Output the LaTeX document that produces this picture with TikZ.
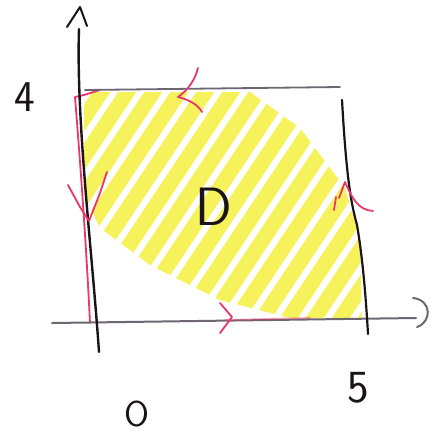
\documentclass[tikz,border=0pt]{standalone}
\usetikzlibrary{calc}
\definecolor{hlyellow}{HTML}{F6F25C}
\definecolor{penpink}{HTML}{E8386A}
\definecolor{pengray}{HTML}{6E6670}
\definecolor{penblack}{HTML}{1A1418}
\tikzset{
  axisline/.style={line width=2.4pt, line cap=round, line join=round},
  pinkstroke/.style={penpink, line width=1.8pt, line cap=round, line join=round},
  hatch/.style={hlyellow, line width=15pt, line cap=round},
  lbl/.style={inner sep=0pt, font=\sffamily\fontsize{#1}{#1}\selectfont, text=penblack},
}
\begin{document}
\begin{tikzpicture}[x=1pt,y=-1pt]
\useasboundingbox (0,0) rectangle (438,434);
% yellow hatched region D
\begin{scope}
  \clip (84,92) -- (250,92) -- (300,128) -- (345,188) -- (360,240) -- (362,318)
        -- (290,318) -- (220,300) -- (150,265) -- (100,228) -- (84,195) -- cycle;
  \foreach \x in {-90,-64,...,380} {
    \draw[hatch] (\x,340) -- ++(220,-330);
  }
\end{scope}
% named corners
\coordinate (tl) at (85,90);
\coordinate (tr) at (340,87);
\coordinate (rt) at (342,100);
\coordinate (rb) at (368,334);
\coordinate (xs) at (52,323);
\coordinate (xe) at (416,318);
\coordinate (ys) at (99,352);
\coordinate (ye) at (79,29);
% left pink boundary
\draw[pinkstroke] (100,90) -- (84,95) -- (75,97) .. controls (80,160) and (86,240) .. (90,323);
% axes
\draw[axisline, pengray, line width=2pt] (xs) -- (xe);
\draw[pinkstroke, opacity=0.45] (225,320) -- (310,318);
\draw[axisline, penblack] (ys) .. controls (92,250) and (76,120) .. (ye);
\draw[axisline, penblack, line width=2pt] (67,27) -- (80,7) -- (87,26);
\draw[axisline, pengray, line width=2pt] (413,298) .. controls (432,300) and (432,322) .. (417,327);
% top and right sides
\draw[axisline, pengray, line width=1.8pt] (tl) -- (tr);
\draw[axisline, penblack, line width=2.2pt] (rt) .. controls (346,170) and (350,200) .. (357,225) .. controls (363,260) and (366,300) .. (rb);
% orientation arrows
\draw[pinkstroke] (198,68) .. controls (195,80) and (188,90) .. (178,97) .. controls (190,100) and (198,105) .. (202,112);
\draw[pinkstroke] (68,185) -- (80,207) -- (89,221) -- (100,193) -- (107,172);
\draw[pinkstroke] (334,210) -- (336,197);
\draw[pinkstroke] (339,198) -- (345,182) .. controls (352,198) and (358,210) .. (373,211);
\draw[pinkstroke] (220,303) -- (232,317) -- (220,333);
% labels
\node[lbl=44] (four) at (25,97) {4};
\node[lbl=54] (dlabel) at (214,207) {D};
\node[lbl=36] (origin) at (137,414) {O};
\node[lbl=46] (five) at (358,388) {5};
\end{tikzpicture}
\end{document}
